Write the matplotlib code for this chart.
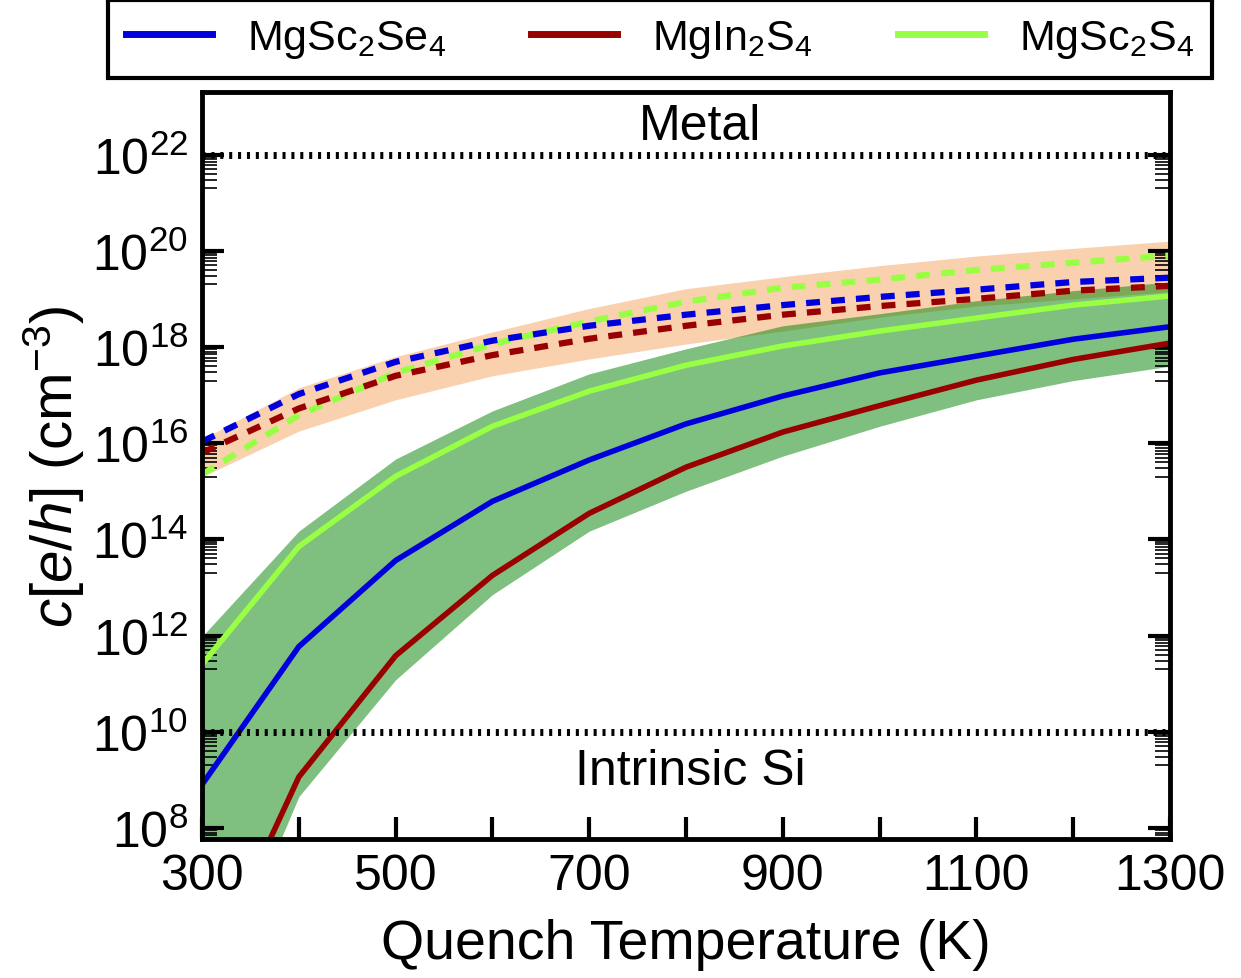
import numpy as np
import matplotlib
matplotlib.use('Agg')
import matplotlib.pyplot as plt

# quench temperatures (K)
temps = [300, 400, 500, 600, 700, 800, 900, 1000, 1100, 1200, 1300]

# log10 of the carrier concentration
se4_solid = [8.9, 11.77, 13.56, 14.79, 15.65, 16.4, 16.98, 17.46, 17.81, 18.16, 18.42]
in2s4_solid = [4.7, 9.06, 11.58, 13.25, 14.54, 15.5, 16.23, 16.78, 17.31, 17.74, 18.08]
s4_solid = [11.4, 13.85, 15.31, 16.35, 17.08, 17.62, 18.02, 18.33, 18.6, 18.87, 19.06]

se4_dash = [16.03, 17.02, 17.69, 18.13, 18.44, 18.67, 18.87, 19.04, 19.19, 19.35, 19.44]
in2s4_dash = [15.8, 16.72, 17.4, 17.83, 18.17, 18.44, 18.67, 18.85, 19.0, 19.17, 19.27]
s4_dash = [15.35, 16.58, 17.46, 18.06, 18.53, 18.94, 19.23, 19.4, 19.6, 19.75, 19.9]

band_low = [3.9, 8.65, 11.08, 12.85, 14.17, 15.0, 15.73, 16.35, 16.9, 17.3, 17.6]
band_high = [11.98, 14.17, 15.67, 16.67, 17.44, 17.96, 18.44, 18.69, 18.96, 19.17, 19.35]
orange_low = [15.3, 16.25, 16.9, 17.4, 17.75, 18.06, 18.33, 18.62, 18.85, 19.0, 19.15]
orange_high = [16.08, 17.15, 17.8, 18.31, 18.8, 19.21, 19.46, 19.69, 19.89, 20.05, 20.2]

names = [r'MgSc$_2$Se$_4$', r'MgIn$_2$S$_4$', r'MgSc$_2$S$_4$']
colors = ['#0000dd', '#990000', '#99ff44']

plt.rcParams['font.family'] = ['Liberation Sans', 'DejaVu Sans']
plt.rcParams['mathtext.fontset'] = 'custom'
plt.rcParams['mathtext.rm'] = 'Liberation Sans'
plt.rcParams['mathtext.it'] = 'Liberation Sans:italic'
plt.rcParams['mathtext.bf'] = 'Liberation Sans:bold'
plt.rcParams['lines.scale_dashes'] = False


def p(vals):
    return 10.0 ** np.array(vals)


def main():
    fig = plt.figure(figsize=(12.41, 9.79), dpi=100)
    ax = fig.add_axes([0.1628, 0.142, 0.78, 0.763])

    ax.fill_between(temps, p(orange_low), p(orange_high), color='sandybrown', alpha=0.5, lw=0)
    ax.fill_between(temps, p(band_low), p(band_high), color='green', alpha=0.5, lw=0)

    dashes = [s4_dash, in2s4_dash, se4_dash]
    dcols = [colors[2], colors[1], colors[0]]
    for d, c in zip(dashes, dcols):
        ax.plot(temps, p(d), color=c, lw=4.5, dashes=(10, 8))

    solids = [se4_solid, in2s4_solid, s4_solid]
    for s, c, n in zip(solids, colors, names):
        ax.plot(temps, p(s), color=c, lw=4, label=n)

    ax.axhline(1e22, color='k', lw=5, dashes=(2.2, 4.2))
    ax.axhline(1e10, color='k', lw=5, dashes=(2.2, 4.2))
    ax.text(815, 10 ** 22.59, 'Metal', fontsize=36, ha='center', va='center')
    ax.text(804, 10 ** 9.19, 'Intrinsic Si', fontsize=36, ha='center', va='center')

    ax.set_yscale('log')
    majors = [10.0 ** k for k in range(8, 23, 2)]
    ax.set_yticks(majors)
    ax.set_yticklabels([r'$10^{%d}$' % k for k in range(8, 23, 2)])
    minors = [s * 10.0 ** (k - 1) for k in range(8, 23, 2) for s in range(2, 10)]
    ax.set_yticks(minors, minor=True)
    ax.set_xticks(temps)
    ax.set_xticklabels([str(t) if t % 200 == 100 else '' for t in temps])
    # limits after the ticks, set_yticks widens the view otherwise
    ax.set_xlim(300, 1300)
    ax.set_ylim(10 ** 7.77, 10 ** 23.3)

    ax.tick_params(which='major', direction='in', length=16, width=3, labelsize=36,
                   right=True, top=False, pad=10)
    ax.tick_params(which='minor', direction='in', length=11, width=1.2, right=True, top=False)
    for sp in ax.spines.values():
        sp.set_linewidth(3.5)

    ax.set_xlabel('Quench Temperature (K)', fontsize=40, labelpad=14)
    ax.set_ylabel(r'$c[e/h]$ (cm$^{-3}$)', fontsize=42, labelpad=4)

    leg = fig.legend(loc='lower left', bbox_to_anchor=(108 / 1241, 1 - 79 / 979, 1104 / 1241, 0.05),
                     mode='expand', ncol=3, fontsize=31, handlelength=2.0, handletextpad=0.8,
                     fancybox=False, borderaxespad=0, borderpad=0.42, framealpha=1)
    leg.get_frame().set_edgecolor('k')
    leg.get_frame().set_linewidth(3)
    for line in leg.get_lines():
        line.set_linewidth(5)

    fig.savefig('out.png', dpi=100)


if __name__ == '__main__':
    main()
